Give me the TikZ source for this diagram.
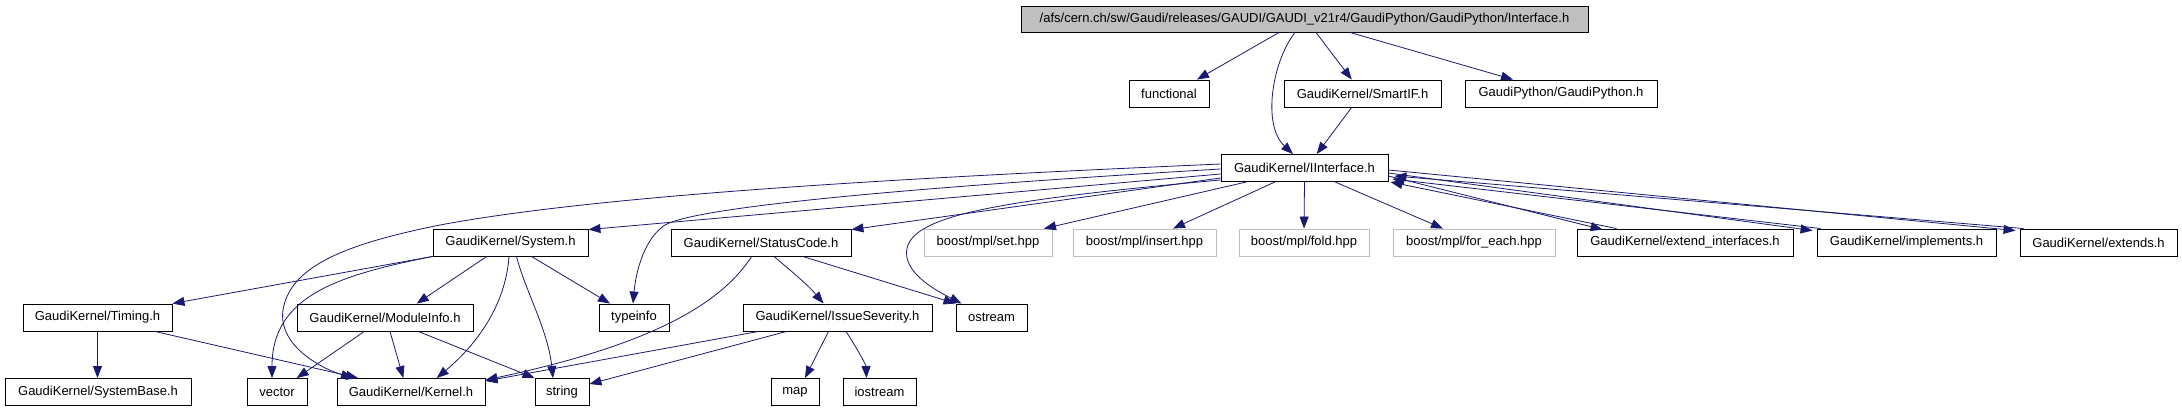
\documentclass[tikz,border=0pt]{standalone}
\usepackage{fontspec}
\setmainfont{Liberation Sans}
\usetikzlibrary{arrows.meta,calc}
\definecolor{edgec}{HTML}{191970}
\definecolor{topfill}{HTML}{BFBFBF}
\definecolor{greyline}{HTML}{BFBFBF}
\begin{document}
\begin{tikzpicture}[x=1pt,y=-1pt,
  box/.style={draw=black, line width=0.9pt, minimum height=27pt, inner sep=0pt, font=\fontsize{13}{15}\selectfont},
  gbox/.style={box, draw=greyline},
  edge/.style={draw=edgec, line width=0.8pt, -{Triangle[length=12pt,width=9pt]}}]
\path[use as bounding box] (0,0) rectangle (2182,410);
% nodes
\node[box, fill=topfill, minimum width=567pt, minimum height=26pt] (top) at (1304.5,19) {/afs/cern.ch/sw/Gaudi/releases/GAUDI/GAUDI\_v21r4/GaudiPython/GaudiPython/Interface.h};
\node[box, minimum width=80pt] (functional) at (1169,93.5) {functional};
\node[box, minimum width=157pt] (smartif) at (1362.5,93.5) {GaudiKernel/SmartIF.h};
\node[box, minimum width=192pt] (gpython) at (1561,93.5) {GaudiPython/GaudiPython.h};
\node[box, minimum width=167pt] (iint) at (1304.5,168) {GaudiKernel/IInterface.h};
\node[box, minimum width=155pt] (system) at (510.5,242.5) {GaudiKernel/System.h};
\node[box, minimum width=180pt] (statuscode) at (761,242.5) {GaudiKernel/StatusCode.h};
\node[gbox, minimum width=128pt] (set) at (988,242.5) {boost/mpl/set.hpp};
\node[gbox, minimum width=143pt] (insert) at (1144.5,242.5) {boost/mpl/insert.hpp};
\node[gbox, minimum width=130pt] (fold) at (1304,242.5) {boost/mpl/fold.hpp};
\node[gbox, minimum width=162pt] (foreach) at (1474,242.5) {boost/mpl/for\_each.hpp};
\node[box, minimum width=216pt] (extint) at (1685,242.5) {GaudiKernel/extend\_interfaces.h};
\node[box, minimum width=179pt] (implements) at (1906.5,242.5) {GaudiKernel/implements.h};
\node[box, minimum width=157pt] (extends) at (2098.5,242.5) {GaudiKernel/extends.h};
\node[box, minimum width=149pt] (timing) at (97.5,317.5) {GaudiKernel/Timing.h};
\node[box, minimum width=176pt] (moduleinfo) at (385,317.5) {GaudiKernel/ModuleInfo.h};
\node[box, minimum width=70pt] (typeinfo) at (634,317.5) {typeinfo};
\node[box, minimum width=189pt] (issue) at (837.5,317.5) {GaudiKernel/IssueSeverity.h};
\node[box, minimum width=71pt] (ostream) at (991.5,317.5) {ostream};
\node[box, minimum width=186pt] (systembase) at (98,392) {GaudiKernel/SystemBase.h};
\node[box, minimum width=60pt] (vector) at (277,392) {vector};
\node[box, minimum width=148pt] (kernel) at (411,392) {GaudiKernel/Kernel.h};
\node[box, minimum width=54pt] (string) at (562,392) {string};
\node[box, minimum width=48pt] (map) at (795,392) {map};
\node[box, minimum width=73pt] (iostream) at (879.5,392) {iostream};
% edges from top
\draw[edge] ($(top.south)+(-25.5,0)$) -- ($(functional.north)+(28,0)$);
\draw[edge] ($(top.south)+(-9.5,0)$) .. controls (1272,62) and (1262,125) .. ($(iint.north)+(-11.5,0)$);
\draw[edge] ($(top.south)+(11.5,0)$) -- ($(smartif.north)+(-10.8,0)$);
\draw[edge] ($(top.south)+(45.5,0)$) -- ($(gpython.north)+(-48,0)$);
\draw[edge] ($(smartif.south)+(-10.8,0)$) -- ($(iint.north)+(12.2,0)$);
% from IInterface
\draw[edge] ($(iint.south)+(-58,0)$) -- ($(set.north)+(56,0)$);
\draw[edge] ($(iint.south)+(-29.5,0)$) -- ($(insert.north)+(28.5,0)$);
\draw[edge] (iint.south) -- (fold.north);
\draw[edge] ($(iint.south)+(30.5,0)$) -- ($(foreach.north)+(-31,0)$);
\draw[edge] ($(iint.west)+(0,10)$) -- ($(statuscode.north east)+(0,1)$);
\draw[edge] ($(iint.west)+(0,6)$) -- ($(system.north east)+(0,1)$);
\draw[edge] ($(iint.west)+(0,1)$) .. controls (950,185) and (700,205) .. (665,225) .. controls (645,238) and (636,270) .. ($(typeinfo.north)+(-1,0)$);
\draw[edge] ($(iint.west)+(0,12)$) .. controls (1000,200) and (915,215) .. (907,248) .. controls (902,272) and (935,290) .. ($(ostream.north)+(-30,0)$);
\draw[edge] ($(iint.west)+(0,-4)$) .. controls (900,178) and (600,195) .. (440,225) .. controls (340,245) and (290,268) .. (283,310) .. controls (278,345) and (320,368) .. ($(kernel.north)+(-58,0)$);
% extend/implements/extends double edges
\draw[edge] ($(iint.east)+(0,8)$) -- ($(extint.north west)+(26,1)$);
\draw[edge] ($(extint.north west)+(40,0)$) -- ($(iint.east)+(2,14)$);
\draw[edge] ($(iint.east)+(0,5)$) -- ($(implements.north west)+(-4,2)$);
\draw[edge] ($(implements.north west)+(4,0)$) -- ($(iint.east)+(4,11)$);
\draw[edge] ($(iint.east)+(0,2)$) -- ($(extends.north west)+(-4,2)$);
\draw[edge] ($(extends.north west)+(4,0)$) -- ($(iint.east)+(6,8)$);
% from System.h
\draw[edge] (system.south west) -- (timing.north east);
\draw[edge] (system.south west) .. controls (340,275) and (272,295) .. ($(vector.north)+(-5,0)$);
\draw[edge] ($(system.south)+(-23.8,0)$) -- ($(moduleinfo.north)+(31.7,0)$);
\draw[edge] ($(system.south)+(-1.5,0)$) .. controls (506,300) and (482,340) .. ($(kernel.north)+(25.7,0)$);
\draw[edge] ($(system.south)+(6,0)$) .. controls (525,290) and (548,330) .. ($(string.north)+(-9,0)$);
\draw[edge] ($(system.south)+(21,0)$) -- ($(typeinfo.north)+(-24,0)$);
% from ModuleInfo.h
\draw[edge] ($(moduleinfo.south)+(-20.7,0)$) -- ($(vector.north)+(19.7,0)$);
\draw[edge] ($(moduleinfo.south)+(5,0)$) -- ($(kernel.north)+(-7.7,0)$);
\draw[edge] ($(moduleinfo.south)+(33.3,0)$) -- (string.north west);
% from Timing.h
\draw[edge] (timing.south) -- ($(systembase.north)+(-0.5,0)$);
\draw[edge] ($(timing.south)+(57.5,0)$) -- ($(kernel.north)+(-53,0)$);
% from StatusCode.h
\draw[edge] ($(statuscode.south)+(13,0)$) .. controls (790,270) and (808,285) .. ($(issue.north)+(-14,0)$);
\draw[edge] ($(statuscode.south)+(41.7,0)$) -- (ostream.north west);
\draw[edge] ($(statuscode.south)+(-9.3,0)$) .. controls (720,305) and (650,345) .. ($(kernel.north east)+(0,2)$);
% from IssueSeverity.h
\draw[edge] ($(issue.south)+(-79,0)$) -- ($(kernel.north east)+(0,3)$);
\draw[edge] ($(issue.south)+(-51,0)$) -- ($(string.east)+(0,-8)$);
\draw[edge] ($(issue.south)+(-9,0)$) -- ($(map.north)+(10,0)$);
\draw[edge] ($(issue.south)+(8.5,0)$) .. controls (858,350) and (866,365) .. ($(iostream.north)+(-13,0)$);
\end{tikzpicture}
\end{document}
